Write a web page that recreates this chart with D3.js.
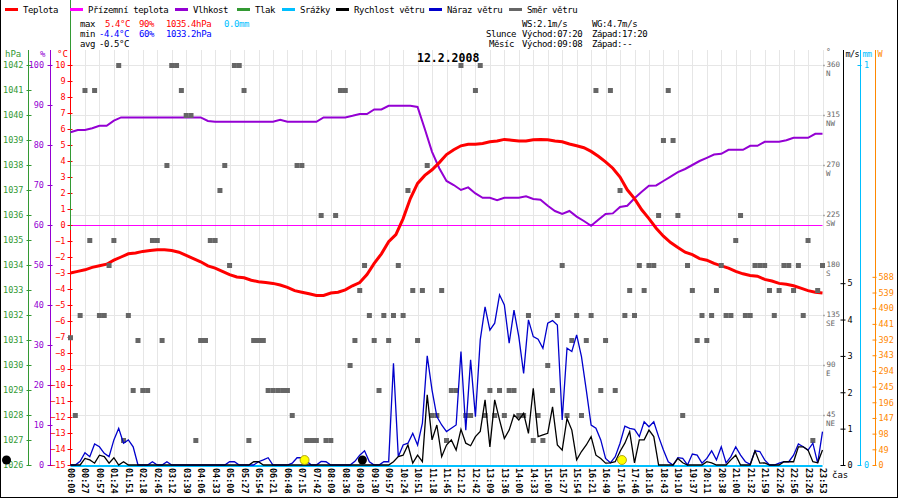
<!DOCTYPE html>
<html>
<head>
<meta charset="utf-8">
<script src="https://cdn.jsdelivr.net/npm/d3@7"></script>
<style>
  body { margin: 0; background: #fff; }
  svg { display: block; font-family: "DejaVu Sans Mono", monospace; }
</style>
</head>
<body>
<div id="chart"></div>
<script>
// x axis labels, one every 3 samples
var timeLabels = ["00:00","00:27","00:57","01:24","01:51","02:18","02:45","03:12","03:39","04:06",
  "04:33","05:00","05:27","05:54","06:21","06:48","07:15","07:42","08:09","08:36",
  "09:03","09:30","09:57","10:24","10:51","11:18","11:45","12:12","12:42","13:09",
  "13:36","14:00","14:33","15:00","15:27","15:54","16:21","16:49","17:16","17:46",
  "18:16","18:43","19:10","19:37","20:11","20:38","21:00","21:32","21:59","22:26",
  "22:56","23:26","23:53"];

// temperature (°C), every half label step
var temperature = [-3.0,-2.9,-2.8,-2.65,-2.55,-2.45,-2.2,-2.0,-1.8,-1.75,
  -1.65,-1.6,-1.55,-1.55,-1.6,-1.7,-1.9,-2.1,-2.3,-2.55,
  -2.7,-2.9,-3.1,-3.25,-3.3,-3.45,-3.55,-3.6,-3.65,-3.75,
  -3.9,-4.1,-4.2,-4.3,-4.4,-4.4,-4.25,-4.2,-4.05,-3.8,
  -3.6,-3.1,-2.4,-1.8,-1.05,-0.6,0.4,1.65,2.6,3.1,
  3.45,3.9,4.4,4.7,4.95,5.05,5.05,5.1,5.2,5.25,
  5.35,5.3,5.25,5.25,5.33,5.35,5.33,5.25,5.2,5.06,
  4.95,4.83,4.6,4.3,3.95,3.55,3.0,2.2,1.65,0.95,
  0.4,-0.2,-0.7,-1.1,-1.4,-1.7,-1.85,-2.1,-2.2,-2.4,
  -2.55,-2.7,-2.9,-3.05,-3.15,-3.2,-3.4,-3.5,-3.65,-3.7,
  -3.8,-3.95,-4.1,-4.2,-4.25];

// relative humidity (%), every half label step
var humidity = [83.2,83.75,83.75,84.2,84.8,84.8,86.1,86.9,
  86.9,86.9,86.9,86.9,86.9,86.9,86.9,86.9,86.9,86.9,86.9,
  86,85.8,85.8,85.8,85.8,85.8,85.8,85.8,85.8,85.8,86.3,
  85.8,85.8,85.8,85.8,85.8,86.9,86.9,86.9,86.9,87.3,
  87.75,87.75,88.9,88.9,89.8,89.8,89.8,89.8,89.5,
  84,78.3,74.2,71,70,68.75,69.4,67.9,66.8,66.8,
  66.2,66.8,66.8,66.8,67.2,66.5,66.3,64.8,63.5,62.75,
  63.5,62.1,61,59.8,61.3,62.75,62.9,64.5,64.8,66.7,
  68.3,69.8,69.9,71,72.1,73.2,74,75,76,76.8,
  77.6,77.8,78.8,78.8,78.8,79.8,79.8,80.8,80.8,80.8,
  81.2,81.8,81.8,81.8,82.8,82.8];

// wind speed (m/s), every sample
var windSpeed = [0,0,0,0.18,0.14,0.05,0.27,0.23,0.05,0.2,
  0,0.09,0,0,0,0,0,0,0,0,
  0,0,0,0,0,0,0,0,0,0,
  0,0,0,0,0,0,0,0,0.09,0.09,
  0,0,0,0,0,0,0,0,0,0,
  0,0,0,0,0,0,0,0,0,0,
  0,0,0,0,0,0,0,0.09,0.23,0.27,
  0.55,0.05,0.27,0.09,1.93,0.69,1.1,0.23,0.55,0.69,
  0.41,0.98,0.6,0.53,0.78,0.92,1.79,0.5,1.79,1.24,
  0.73,0.96,1.38,1.24,1.42,0.87,2.11,0.78,0.83,0.87,
  1.6,0.55,0.41,1.28,0.96,0.14,0.37,0.55,0.78,0.27,
  0.18,0.05,0.06,0.09,0.37,0.6,0.92,0.06,0.69,0.69,
  0.96,0.78,0,0,0,0,0.18,0.06,0,0,
  0,0,0.09,0.06,0,0,0,0.14,0.27,0,
  0,0,0.39,0.05,0.06,0,0,0,0.09,0.09,
  0.09,0.5,0.5,0.41,0.09,0.06,0.41];

// wind gust (m/s), every sample
var windGust = [0,0,0.1,0.34,0.23,0.58,0.5,0.32,0.23,0.69,
  1.01,0.6,0.69,0.5,0,0,0,0.09,0,0,
  0.09,0,0,0,0,0,0,0,0,0,
  0,0,0,0.09,0.09,0,0,0,0,0.09,
  0.14,0.2,0,0,0,0,0.05,0.2,0.2,0.1,
  0,0,0.1,0.09,0,0,0,0,0,0.1,
  0.27,0.39,0.09,0,0,0.09,0.09,2.8,0.23,0.55,
  0.6,0.87,0.55,1.15,3.0,2.06,1.33,1.1,0.92,1.01,
  1.1,3.12,0.96,2.89,1.33,3.44,4.35,3.71,3.9,4.68,
  4.4,3.35,4.26,3.53,2.52,3.99,3.53,3.46,3.21,3.9,
  3.97,3.85,1.24,3.21,3.12,3.58,2.98,2.06,1.1,1.01,
  0.69,0.18,0.06,0.23,0.6,1.07,1.01,0.98,0.78,1.19,
  1.05,1.19,0.78,0.41,0.09,0,0.2,0.18,0,0.3,
  0.27,0.05,0.18,0.39,0.14,0.5,0.06,0.23,0.5,0.27,
  0.09,0.02,0.39,0.37,0.14,0,0,0.05,0.09,0.09,
  0.27,0.58,0.5,0.41,0.6,0.05,0.92];

// wind direction (degrees), every sample
var windDir = [115,45,135,337.5,202.5,337.5,135,135,180,202.5,
  360,22.5,135,67.5,112.5,67.5,67.5,202.5,202.5,112.5,
  270,360,360,337.5,315,315,22.5,112.5,112.5,202.5,
  202.5,247.5,270,180,360,360,337.5,22.5,112.5,112.5,
  112.5,67.5,67.5,67.5,67.5,67.5,45,270,270,22.5,
  22.5,22.5,225,22.5,22.5,225,337.5,337.5,90,112.5,
  157.5,180,135,112.5,67.5,135,112.5,135,180,135,
  247.5,157.5,112.5,157.5,270,45,45,157.5,22.5,67.5,
  67.5,360,45,45,337.5,360,45,67.5,45,67.5,
  45,67.5,67.5,45,45,135,22.5,45,22.5,90,
  67.5,135,180,45,112.5,135,45,112.5,135,337.5,
  67.5,112.5,337.5,67.5,247.5,135,157.5,135,180,157.5,
  180,180,225,292.5,337.5,292.5,225,45,180,157.5,
  112.5,135,112.5,135,157.5,180,135,135,202.5,225,
  135,135,180,180,180,157.5,135,157.5,180,180,
  157.5,180,135,202.5,22.5,157.5,180];

// pressure trace (hPa) as it shows at the first sample, ground temp, rain
var pressureTrace = [1035.4, 1044.6];
var groundTemp = [0, 0];
var rain = [0, 0];

var sunEvents = ["07:20", "17:20"];
var moonEvents = ["09:08"];

var compass = { 45: "NE", 90: "E", 135: "SE", 180: "S", 225: "SW", 270: "W", 315: "NW", 360: "N" };

var legendItems = [
  { name: "Teplota", color: "#ff0000", x: 5 },
  { name: "Přízemní teplota", color: "#ff00ff", x: 70 },
  { name: "Vlhkost", color: "#9400d3", x: 175 },
  { name: "Tlak", color: "#339933", x: 237 },
  { name: "Srážky", color: "#00bfff", x: 282 },
  { name: "Rychlost větru", color: "#000000", x: 336 },
  { name: "Náraz větru", color: "#0000cc", x: 429 },
  { name: "Směr větru", color: "#666666", x: 509 }
];

var width = 900, height = 500;
var plotTop = 65, plotBottom = 465;
var svg = d3.select("#chart").append("svg").attr("width", width).attr("height", height);

var x = d3.scaleLinear([0, 156], [70.5, 822.5]);
var yTemp = d3.scaleLinear([-15, 10], [plotBottom, plotTop]);
var yHum = d3.scaleLinear([0, 100], [plotBottom, plotTop]);
var yPres = d3.scaleLinear([1026, 1042], [plotBottom, plotTop]);
var yDir = d3.scaleLinear([0, 360], [plotBottom, plotTop]);
var yWind = d3.scaleLinear([0, 11], [plotBottom, plotTop]);
var yRain = d3.scaleLinear([0, 1], [plotBottom, plotTop]);
var ySolar = d3.scaleLinear([0, 1250], [plotBottom, plotTop]);

function minutes(t) {
  var p = t.split(":");
  return +p[0] * 60 + +p[1];
}
// time of day -> sample position, piecewise through the label times
var timeToSample = d3.scaleLinear(
  timeLabels.map(minutes),
  timeLabels.map(function (d, i) { return i * 3; })
);

// grid
var grid = svg.append("g").attr("stroke", "#e6e6e6").attr("stroke-width", 1);
grid.selectAll("line.v")
  .data(d3.range(3, 157, 3))
  .join("line")
  .attr("class", "v")
  .attr("x1", function (d) { return Math.round(x(d)) + 0.5; })
  .attr("x2", function (d) { return Math.round(x(d)) + 0.5; })
  .attr("y1", 50)
  .attr("y2", plotBottom);
grid.selectAll("line.h")
  .data(d3.range(45, 361, 45))
  .join("line")
  .attr("class", "h")
  .attr("x1", x(0))
  .attr("x2", x(156))
  .attr("y1", function (d) { return Math.round(yDir(d)) + 0.5; })
  .attr("y2", function (d) { return Math.round(yDir(d)) + 0.5; });

// ground temperature
svg.append("line")
  .attr("x1", x(0)).attr("x2", x(156))
  .attr("y1", yTemp(groundTemp[0]) + 0.5).attr("y2", yTemp(groundTemp[1]) + 0.5)
  .attr("stroke", "#ff00ff").attr("stroke-width", 1);

// axes helpers
function styleAxis(g, color, x1, x2, size) {
  g.select(".domain").remove();
  g.attr("font-family", "DejaVu Sans Mono, monospace").attr("font-size", size || 8.5);
  g.selectAll(".tick line").attr("stroke", color).attr("x1", x1).attr("x2", x2);
  g.selectAll(".tick text").attr("fill", color);
}

function axisLine(xPos, color) {
  svg.append("line")
    .attr("x1", xPos).attr("x2", xPos)
    .attr("y1", 50).attr("y2", plotBottom)
    .attr("stroke", color).attr("stroke-width", 1);
}

// left axes
axisLine(28.5, "#339933");
svg.append("g")
  .attr("transform", "translate(28.5,0)")
  .call(d3.axisLeft(yPres).tickValues(d3.range(1026, 1043)).tickSize(0).tickPadding(5).tickFormat(d3.format("d")))
  .call(styleAxis, "#339933", -2, 3);

axisLine(50.5, "#9400d3");
svg.append("g")
  .attr("transform", "translate(50.5,0)")
  .call(d3.axisLeft(yHum).tickValues(d3.range(0, 101, 10)).tickSize(0).tickPadding(6.5))
  .call(styleAxis, "#9400d3", -3, 2);

axisLine(70.5, "#ff0000");
svg.append("g")
  .attr("transform", "translate(70.5,0)")
  .call(d3.axisLeft(yTemp).tickValues(d3.range(-15, 11)).tickSize(0).tickPadding(5))
  .call(styleAxis, "#ff0000", -3, 2);

// pressure trace
svg.append("line")
  .attr("x1", x(0)).attr("x2", x(0))
  .attr("y1", yPres(pressureTrace[0])).attr("y2", yPres(pressureTrace[1]))
  .attr("stroke", "#339933").attr("stroke-width", 1);
svg.append("line")
  .attr("x1", x(0)).attr("x2", x(0))
  .attr("y1", 50).attr("y2", yTemp(6.9))
  .attr("stroke", "#ff0000").attr("stroke-width", 1);

svg.append("g")
  .attr("font-size", 9)
  .selectAll("text")
  .data([{ t: "hPa", c: "#339933", x: 5 }, { t: "%", c: "#9400d3", x: 40 }, { t: "°C", c: "#ff0000", x: 57 }])
  .join("text")
  .attr("x", function (d) { return d.x; })
  .attr("y", 57)
  .attr("fill", function (d) { return d.c; })
  .text(function (d) { return d.t; });

// right axes
svg.append("g")
  .attr("transform", "translate(823.5,0)")
  .call(d3.axisRight(yDir).tickValues(d3.range(45, 361, 45)).tickSize(0).tickPadding(3).tickFormat(d3.format("d")))
  .call(styleAxis, "#666666", 0, 1, 7.5)
  .call(function (g) {
    g.selectAll(".tick text").attr("dy", "0.15em");
    g.selectAll(".tick")
      .append("text")
      .attr("x", 2.5)
      .attr("dy", "1.45em")
      .attr("fill", "#666666")
      .text(function (d) { return compass[d]; });
    g.selectAll(".tick line").attr("stroke-width", 1.5);
  });
svg.append("text").attr("x", 826).attr("y", 55).attr("font-size", 8).attr("fill", "#666666").text("°");

axisLine(843.5, "#000000");
svg.append("g")
  .attr("transform", "translate(843.5,0)")
  .call(d3.axisRight(yWind).tickValues(d3.range(0, 6)).tickSize(0).tickPadding(4))
  .call(styleAxis, "#000000", -3, 2);

axisLine(860.5, "#00bfff");
svg.append("g")
  .attr("transform", "translate(860.5,0)")
  .call(d3.axisRight(yRain).tickValues([0, 1]).tickSize(0).tickPadding(3.5).tickFormat(d3.format("d")))
  .call(styleAxis, "#00bfff", -3, 1);

axisLine(875.5, "#ff8800");
svg.append("g")
  .attr("transform", "translate(875.5,0)")
  .call(d3.axisRight(ySolar).tickValues(d3.range(0, 589, 49)).tickSize(0).tickPadding(3))
  .call(styleAxis, "#ff8800", -3, 1);

svg.append("g")
  .attr("font-size", 8.5)
  .selectAll("text")
  .data([{ t: "m/s", c: "#000000", x: 845.5 }, { t: "mm", c: "#00bfff", x: 862.5 }, { t: "W", c: "#ff8800", x: 877.5 }])
  .join("text")
  .attr("x", function (d) { return d.x; })
  .attr("y", 57)
  .attr("fill", function (d) { return d.c; })
  .attr("letter-spacing", -0.6)
  .text(function (d) { return d.t; });

// x axis
svg.append("g")
  .attr("transform", "translate(0," + plotBottom + ")")
  .call(d3.axisBottom(x).tickValues(d3.range(0, 157, 3)).tickSize(0).tickFormat(function (d) { return timeLabels[d / 3]; }))
  .call(function (g) {
    g.select(".domain").remove();
    g.attr("font-family", "DejaVu Sans Mono, monospace").attr("font-size", 8.5).attr("font-weight", "bold");
    g.selectAll(".tick text")
      .attr("fill", "#000")
      .attr("text-anchor", "start")
      .attr("transform", "rotate(90)")
      .attr("x", 3)
      .attr("y", 0)
      .attr("dy", "0.35em");
  });
svg.append("text").attr("x", 832).attr("y", 478).attr("font-size", 9).text("čas");

// humidity
svg.append("path")
  .datum(humidity)
  .attr("fill", "none")
  .attr("stroke", "#9400d3")
  .attr("stroke-width", 2)
  .attr("d", d3.line()
    .x(function (d, i) { return x(i * 1.5); })
    .y(function (d) { return yHum(d); }));

// temperature
svg.append("path")
  .datum(temperature)
  .attr("fill", "none")
  .attr("stroke", "#ff0000")
  .attr("stroke-width", 3)
  .attr("d", d3.line()
    .x(function (d, i) { return x(i * 1.5); })
    .y(function (d) { return yTemp(d); }));

// wind direction
svg.append("g")
  .attr("fill", "#666666")
  .selectAll("rect")
  .data(windDir)
  .join("rect")
  .attr("x", function (d, i) { return x(i) - 2.5; })
  .attr("y", function (d) { return yDir(d) - 2; })
  .attr("width", 5)
  .attr("height", 5);

// rain
svg.append("line")
  .attr("x1", x(0)).attr("x2", x(156))
  .attr("y1", yRain(rain[0]) + 1).attr("y2", yRain(rain[1]) + 1)
  .attr("stroke", "#00bfff").attr("stroke-width", 2);

// gusts and speed
svg.append("path")
  .datum(windGust)
  .attr("fill", "none")
  .attr("stroke", "#0000cc")
  .attr("stroke-width", 1.3)
  .attr("d", d3.line()
    .x(function (d, i) { return x(i); })
    .y(function (d) { return yWind(d); }));

svg.append("path")
  .datum(windSpeed)
  .attr("fill", "none")
  .attr("stroke", "#000000")
  .attr("stroke-width", 1.3)
  .attr("d", d3.line()
    .x(function (d, i) { return x(i); })
    .y(function (d) { return yWind(d); }));

// sun and moon
svg.append("g")
  .selectAll("circle")
  .data(sunEvents)
  .join("circle")
  .attr("cx", function (d) { return x(timeToSample(minutes(d))); })
  .attr("cy", plotBottom - 5)
  .attr("r", 4.5)
  .attr("fill", "#ffff00")
  .attr("stroke", "#a09000")
  .attr("stroke-width", 0.8);
svg.append("g")
  .selectAll("circle")
  .data(moonEvents)
  .join("circle")
  .attr("cx", function (d) { return x(timeToSample(minutes(d))); })
  .attr("cy", plotBottom - 5)
  .attr("r", 4.5)
  .attr("fill", "#000");
svg.append("circle").attr("cx", 6.5).attr("cy", plotBottom - 5).attr("r", 4.5).attr("fill", "#000");

// frame
svg.append("g")
  .attr("stroke", "#000")
  .attr("stroke-width", 1)
  .call(function (g) {
    g.append("line").attr("x1", 0.5).attr("x2", 0.5).attr("y1", 0).attr("y2", 498);
    g.append("line").attr("x1", 897.5).attr("x2", 897.5).attr("y1", 0).attr("y2", 498);
    g.append("line").attr("x1", 0).attr("x2", 898).attr("y1", 497.5).attr("y2", 497.5);
  });

// legend
var legend = svg.append("g").attr("font-size", 9).attr("letter-spacing", -0.4);
legend.selectAll("line")
  .data(legendItems)
  .join("line")
  .attr("x1", function (d) { return d.x; })
  .attr("x2", function (d) { return d.x + 13; })
  .attr("y1", 9.5)
  .attr("y2", 9.5)
  .attr("stroke", function (d) { return d.color; })
  .attr("stroke-width", 3);
legend.selectAll("text")
  .data(legendItems)
  .join("text")
  .attr("x", function (d) { return d.x + 18; })
  .attr("y", 12.5)
  .text(function (d) { return d.name; });

// stats block
var stats = svg.append("g").attr("font-size", 9).attr("letter-spacing", -0.4);
var statRows = [
  [["max", "#000", 80], ["5.4°C", "#ff0000", 105], ["90%", "#ff0000", 139], ["1035.4hPa", "#ff0000", 166], ["0.0mm", "#00bfff", 224]],
  [["min", "#000", 80], ["-4.4°C", "#0000ff", 99], ["60%", "#0000ff", 139], ["1033.2hPa", "#0000ff", 166]],
  [["avg", "#000", 80], ["-0.5°C", "#000", 99]],
  [["WS:2.1m/s", "#000", 522], ["WG:4.7m/s", "#000", 592]],
  [["Slunce", "#000", 486], ["Východ:07:20", "#000", 522], ["Západ:17:20", "#000", 592]],
  [["Měsíc", "#000", 489], ["Východ:09:08", "#000", 522], ["Západ:--", "#000", 592]]
];
statRows.forEach(function (row, r) {
  stats.selectAll(null)
    .data(row)
    .join("text")
    .attr("x", function (d) { return d[2]; })
    .attr("y", 27 + (r % 3) * 10)
    .attr("fill", function (d) { return d[1]; })
    .text(function (d) { return d[0]; });
});

svg.append("text")
  .attr("x", 417)
  .attr("y", 62)
  .attr("font-size", 11.5)
  .attr("font-weight", "bold")
  .text("12.2.2008");
</script>
</body>
</html>
